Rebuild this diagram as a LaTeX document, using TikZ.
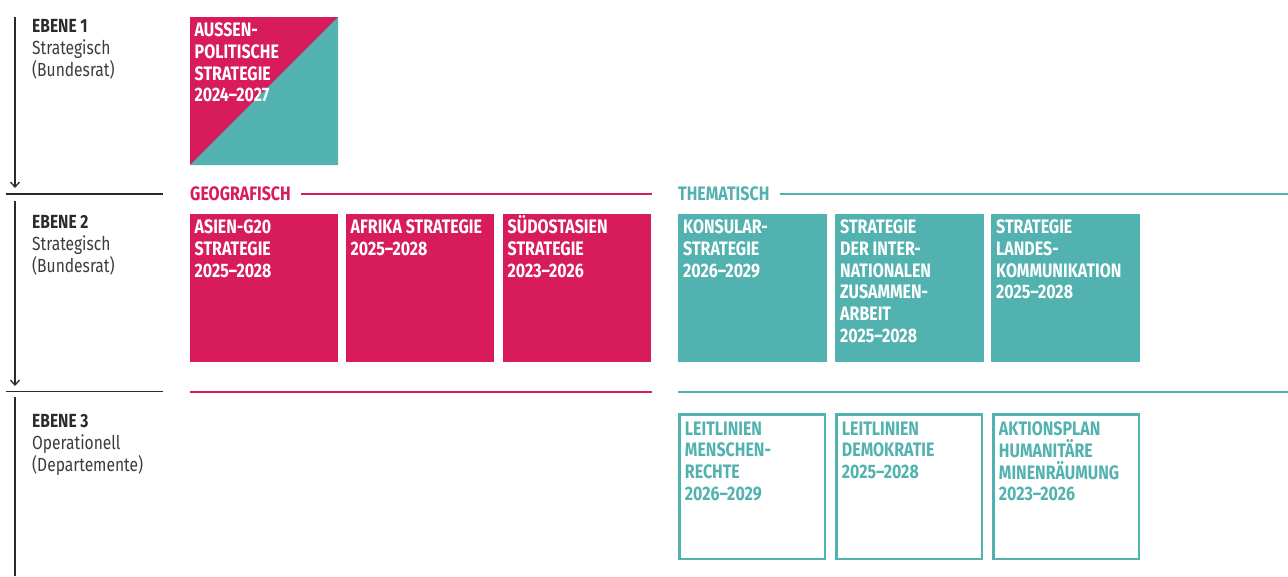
\documentclass[tikz,border=0pt]{standalone}
\usepackage{fontspec}
\setmainfont{Fira Sans}[FakeStretch=0.82]
\usetikzlibrary{arrows.meta,calc}
\definecolor{cRosa}{HTML}{D81B5B}
\definecolor{cTeal}{HTML}{52B2AF}
\definecolor{cDark}{HTML}{2B2B2B}
\definecolor{cGrey}{HTML}{3C3C3C}
\begin{document}
\begin{tikzpicture}[x=1pt,y=-1pt,
  solidbox/.style={anchor=north west, inner sep=0pt, outer sep=0pt, minimum width=148pt, minimum height=148pt},
  rosabox/.style={solidbox, fill=cRosa},
  tealbox/.style={solidbox, fill=cTeal, minimum width=148.5pt},
  outlinebox/.style={anchor=north west, inner sep=0pt, outer sep=0pt, draw=cTeal, line width=2.5pt, minimum width=145.5pt, minimum height=144.5pt},
  boxfont/.style={font=\fontsize{19.5}{21.7}\selectfont\bfseries},
  boxtext/.style={boxfont, anchor=north west, inner sep=0pt, align=left, text=white},
  outlinetext/.style={boxtext, text=cTeal},
  heading/.style={boxfont, anchor=base west, inner sep=0pt},
  levellabel/.style={font=\fontsize{19}{22}\selectfont, anchor=north west, inner sep=0pt, align=left, text=cGrey},
  levelarrow/.style={draw=cDark, line width=1.3pt, -{Straight Barb[length=5pt,width=9pt,line width=1.3pt]}},
  levelline/.style={draw=cDark, line width=1.3pt},
  sepline/.style={line width=2pt}
]
\useasboundingbox (0,0) rectangle (1288,576);

% left level arrows
\coordinate (a1s) at (15,17);   \coordinate (a1e) at (15,188);
\coordinate (a2s) at (15,201);  \coordinate (a2e) at (15,386);
\coordinate (a3s) at (15,397);  \coordinate (a3e) at (15,576);
\coordinate (h1s) at (6,194);   \coordinate (h1e) at (163,194);
\coordinate (h2s) at (6,391.5); \coordinate (h2e) at (163,391.5);
\draw[levelarrow] (a1s) -- (a1e);
\draw[levelarrow] (a2s) -- (a2e);
\draw[levelline] (a3s) -- (a3e);
\draw[levelline] (h1s) -- (h1e);
\draw[levelline] (h2s) -- (h2e);

% level labels
\node[levellabel] (e1) at (32,19.5) {\textcolor{cDark}{\bfseries EBENE 1}\\Strategisch\\(Bundesrat)};
\node[levellabel] (e2) at (32,215) {\textcolor{cDark}{\bfseries EBENE 2}\\Strategisch\\(Bundesrat)};
\node[levellabel] (e3) at (32,414) {\textcolor{cDark}{\bfseries EBENE 3}\\Operationell\\(Departemente)};

% level 1 box
\node[rosabox] (aps) at (190,17) {};
\fill[cTeal] (aps.north east) -- (aps.south east) -- (aps.south west) -- cycle;
\node[boxtext] (apst) at ($(aps.north west)+(4.5,5.6)$) {AUSSEN-\\POLITISCHE\\STRATEGIE\\2024–2027};

% headings
\node[heading, text=cRosa] (geo) at (190,200) {GEOGRAFISCH};
\node[heading, text=cTeal] (them) at (678,200) {THEMATISCH};
\coordinate (geoend) at (652,193.5);
\coordinate (themend) at (1288,193.5);
\draw[color=cRosa, sepline] ([xshift=10pt]geo.east |- geoend) -- (geoend);
\draw[color=cTeal, sepline] ([xshift=10pt]them.east |- themend) -- (themend);

% level 2 geographic boxes
\node[rosabox] (g1) at (190,214) {};
\node[rosabox] (g2) at (346,214) {};
\node[rosabox] (g3) at (503,214) {};
\node[boxtext] (g1t) at ($(g1.north west)+(4.5,5.6)$) {ASIEN-G20\\STRATEGIE\\2025–2028};
\node[boxtext] (g2t) at ($(g2.north west)+(4.5,5.6)$) {AFRIKA STRATEGIE\\2025–2028};
\node[boxtext] (g3t) at ($(g3.north west)+(4.5,5.6)$) {S\smash{Ü}DOSTASIEN\\STRATEGIE\\2023–2026};

% level 2 thematic boxes
\node[tealbox] (t1) at (678,214) {};
\node[tealbox] (t2) at (835,214) {};
\node[tealbox] (t3) at (991,214) {};
\node[boxtext] (t1t) at ($(t1.north west)+(5,5.6)$) {KONSULAR-\\STRATEGIE\\2026–2029};
\node[boxtext] (t2t) at ($(t2.north west)+(5,5.6)$) {STRATEGIE\\DER INTER-\\NATIONALEN\\ZUSAMMEN-\\ARBEIT\\2025–2028};
\node[boxtext] (t3t) at ($(t3.north west)+(5,5.6)$) {STRATEGIE\\LANDES-\\KOMMUNIKATION\\2025–2028};

% separator lines
\coordinate (l1s) at (190,391.5); \coordinate (l1e) at (652,391.5);
\coordinate (l2s) at (678,391.5); \coordinate (l2e) at (1288,391.5);
\draw[color=cRosa, sepline] (l1s) -- (l1e);
\draw[color=cTeal, sepline] (l2s) -- (l2e);

% level 3 boxes
\node[outlinebox] (o1) at (679.25,414.25) {};
\node[outlinebox] (o2) at (836.25,414.25) {};
\node[outlinebox] (o3) at (993.25,414.25) {};
\node[outlinetext] (o1t) at ($(o1.north west)+(5.5,7.3)$) {LEITLINIEN\\MENSCHEN-\\RECHTE\\2026–2029};
\node[outlinetext] (o2t) at ($(o2.north west)+(5.5,7.3)$) {LEITLINIEN\\DEMOKRATIE\\2025–2028};
\node[outlinetext] (o3t) at ($(o3.north west)+(5.5,7.3)$) {AKTIONSPLAN\\HUMANITÄRE\\MINENRÄUMUNG\\2023–2026};
\end{tikzpicture}
\end{document}
